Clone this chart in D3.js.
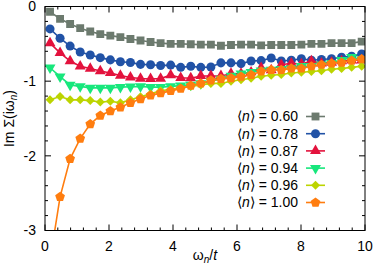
<!DOCTYPE html>
<html>
<head>
<meta charset="utf-8">
<script src="https://cdn.jsdelivr.net/npm/d3@7"></script>
<style>
  body { margin: 0; background: #fff; }
  svg { display: block; font-family: 'Liberation Sans', Arial, sans-serif; }
  .tick-label { font-size: 14px; fill: #000; }
  .legend text { font-size: 14px; fill: #000; }
</style>
</head>
<body>
<svg id="graph" width="374" height="265"></svg>
<script>
// Matsubara frequencies omega_n / t
const omega = [0.157, 0.471, 0.785, 1.100, 1.414, 1.728, 2.042, 2.356, 2.670, 2.985,
  3.299, 3.613, 3.927, 4.241, 4.555, 4.869, 5.184, 5.498, 5.812, 6.126,
  6.440, 6.754, 7.069, 7.383, 7.697, 8.011, 8.325, 8.639, 8.954, 9.268, 9.582, 9.896];

const fillings = ['0.60', '0.78', '0.87', '0.94', '0.96', '1.00'];

const n060 = [-0.07, -0.165, -0.235, -0.29, -0.335, -0.37, -0.39, -0.41, -0.435, -0.455,
  -0.475, -0.49, -0.50, -0.50, -0.505, -0.51, -0.51, -0.525, -0.515, -0.51,
  -0.51, -0.52, -0.515, -0.515, -0.515, -0.51, -0.50, -0.50, -0.49, -0.49, -0.49, -0.47];
const n078 = [-0.30, -0.425, -0.53, -0.61, -0.65, -0.685, -0.715, -0.74, -0.75, -0.775,
  -0.78, -0.79, -0.785, -0.815, -0.80, -0.815, -0.81, -0.755, -0.755, -0.765,
  -0.73, -0.725, -0.69, -0.73, -0.72, -0.70, -0.72, -0.71, -0.70, -0.68, -0.665, -0.635];
const n087 = [-0.49, -0.62, -0.73, -0.80, -0.83, -0.865, -0.89, -0.925, -0.95, -0.965,
  -0.97, -0.965, -0.92, -0.955, -0.96, -0.93, -0.93, -0.93, -0.90, -0.90,
  -0.88, -0.82, -0.85, -0.78, -0.76, -0.77, -0.73, -0.76, -0.75, -0.73, -0.72, -0.72];
const n094 = [-0.82, -0.94, -1.05, -1.07, -1.09, -1.09, -1.09, -1.08, -1.075, -1.07,
  -1.08, -1.08, -1.07, -1.06, -1.05, -1.03, -1.0, -0.97, -0.93, -0.90,
  -0.88, -0.86, -0.85, -0.84, -0.83, -0.80, -0.80, -0.78, -0.76, -0.72, -0.68, -0.71];
const n096 = [-1.25, -1.205, -1.25, -1.25, -1.26, -1.28, -1.27, -1.29, -1.25, -1.21,
  -1.17, -1.13, -1.11, -1.09, -1.07, -1.05, -1.03, -1.03, -1.0, -0.98,
  -0.96, -0.935, -0.92, -0.91, -0.89, -0.88, -0.87, -0.86, -0.84, -0.83, -0.815, -0.80];
const n100 = [-3.4, -2.55, -2.04, -1.77, -1.575, -1.46, -1.40, -1.35, -1.29, -1.24,
  -1.19, -1.16, -1.13, -1.10, -1.06, -1.03, -0.99, -0.97, -0.96, -0.94,
  -0.915, -0.87, -0.85, -0.85, -0.83, -0.83, -0.80, -0.78, -0.76, -0.75, -0.725, -0.705];

const xTicks = [0, 2, 4, 6, 8, 10];
const yTicks = [0, -1, -2, -3];

(function draw() {
  const margin = { top: 6.5, right: 9, bottom: 34.5, left: 45 };
  const width = 374 - margin.left - margin.right;
  const height = 265 - margin.top - margin.bottom;

  const svg = d3.select('#graph');
  const g = svg.append('g')
      .attr('transform', `translate(${margin.left},${margin.top})`);

  const x = d3.scaleLinear().domain([0, 10]).range([0, width]);
  const y = d3.scaleLinear().domain([-3, 0]).range([height, 0]);

  // pentagon marker, d3 has none
  const symbolPentagon = {
    draw(ctx, size) {
      const r = Math.sqrt(size / 2.378);
      for (let i = 0; i < 5; i += 1) {
        const a = -Math.PI / 2 + i * 2 * Math.PI / 5;
        if (i === 0) ctx.moveTo(r * Math.cos(a), r * Math.sin(a));
        else ctx.lineTo(r * Math.cos(a), r * Math.sin(a));
      }
      ctx.closePath();
    },
  };

  const series = [
    { values: n060, color: '#6c7a6e', type: d3.symbolSquare, size: 62, rot: 0 },
    { values: n078, color: '#2152a6', type: d3.symbolCircle, size: 64, rot: 0 },
    { values: n087, color: '#e3123d', type: d3.symbolTriangle, size: 52, rot: 0 },
    { values: n094, color: '#17e77c', type: d3.symbolTriangle, size: 52, rot: 180 },
    { values: n096, color: '#bcd400', type: d3.symbolSquare, size: 40, rot: 45 },
    { values: n100, color: '#ff7d0f', type: symbolPentagon, size: 62, rot: 0 },
  ];
  series.forEach((s, i) => { s.label = fillings[i]; });

  // axes: ticks inward on all four sides
  const major = 6;
  const minor = 3;
  const xMinor = d3.range(0, 10.001, 0.4).filter(v => xTicks.indexOf(+v.toFixed(1)) < 0);
  const yMinor = d3.range(-3, 0.001, 0.2).filter(v => yTicks.indexOf(Math.round(v * 10) / 10) < 0);

  const axes = g.append('g').attr('stroke', '#000').attr('stroke-width', 1);
  const tick = (x1, y1, x2, y2) => axes.append('line')
      .attr('x1', x1).attr('y1', y1).attr('x2', x2).attr('y2', y2);

  xTicks.forEach((v) => {
    tick(x(v), height, x(v), height - major);
    tick(x(v), 0, x(v), major);
  });
  xMinor.forEach((v) => {
    tick(x(v), height, x(v), height - minor);
    tick(x(v), 0, x(v), minor);
  });
  yTicks.forEach((v) => {
    tick(0, y(v), major, y(v));
    tick(width, y(v), width - major, y(v));
  });
  yMinor.forEach((v) => {
    tick(0, y(v), minor, y(v));
    tick(width, y(v), width - minor, y(v));
  });

  g.selectAll('.xlab')
    .data(xTicks)
    .enter().append('text')
      .attr('class', 'tick-label')
      .attr('x', d => x(d))
      .attr('y', height + 20)
      .attr('text-anchor', 'middle')
      .text(d => d);

  g.selectAll('.ylab')
    .data(yTicks)
    .enter().append('text')
      .attr('class', 'tick-label')
      .attr('x', -9)
      .attr('y', d => y(d))
      .attr('dy', '0.35em')
      .attr('text-anchor', 'end')
      .text(d => d);

  // data
  g.append('clipPath')
      .attr('id', 'clip')
    .append('rect')
      .attr('width', width)
      .attr('height', height);

  const line = d3.line()
    .x((d, i) => x(omega[i]))
    .y(d => y(d));

  const plot = g.append('g').attr('clip-path', 'url(#clip)');

  series.forEach((s) => {
    plot.append('path')
        .datum(s.values)
        .attr('fill', 'none')
        .attr('stroke', s.color)
        .attr('stroke-width', 1.6)
        .attr('d', line);

    const sym = d3.symbol().type(s.type).size(s.size);
    plot.selectAll(null)
        .data(s.values.map((v, i) => [omega[i], v]).filter(d => d[1] >= -3))
      .enter().append('path')
        .attr('fill', s.color)
        .attr('d', sym)
        .attr('transform', d => `translate(${x(d[0])},${y(d[1])}) rotate(${s.rot})`);
  });

  g.append('rect')
      .attr('width', width)
      .attr('height', height)
      .attr('fill', 'none')
      .attr('stroke', '#000')
      .attr('stroke-width', 1);

  // legend
  const legend = g.append('g')
      .attr('class', 'legend')
      .attr('transform', `translate(${298 - margin.left},${116.5 - margin.top})`);

  const row = legend.selectAll('g')
      .data(series)
    .enter().append('g')
      .attr('transform', (d, i) => `translate(0,${i * 17.2})`);

  const lt = row.append('text')
      .attr('text-anchor', 'end')
      .attr('dy', '0.35em');
  lt.append('tspan').text('\u27E8');
  lt.append('tspan').attr('font-style', 'italic').text('n');
  lt.append('tspan').text(d => `\u27E9 = ${d.label}`);

  row.append('line')
      .attr('x1', 8)
      .attr('x2', 27)
      .attr('stroke', d => d.color)
      .attr('stroke-width', 1.6);

  row.append('path')
      .attr('fill', d => d.color)
      .attr('d', d => d3.symbol().type(d.type).size(d.size)())
      .attr('transform', d => `translate(17.5,0) rotate(${d.rot})`);

  // axis titles
  const yt = svg.append('text')
      .attr('transform', `translate(14,${margin.top + height / 2}) rotate(-90)`)
      .attr('text-anchor', 'middle')
      .attr('font-size', 14);
  yt.append('tspan').text('Im \u03A3(i\u03C9');
  yt.append('tspan').attr('font-style', 'italic').attr('font-size', 10).attr('dy', 3).text('n');
  yt.append('tspan').attr('dy', -3).text(')');

  const xt = svg.append('text')
      .attr('x', margin.left + width / 2)
      .attr('y', 260)
      .attr('text-anchor', 'middle')
      .attr('font-size', 14);
  xt.append('tspan').text('\u03C9');
  xt.append('tspan').attr('font-style', 'italic').attr('font-size', 10).attr('dy', 3).text('n');
  xt.append('tspan').attr('dy', -3).text('/');
  xt.append('tspan').attr('font-style', 'italic').text('t');
}());
</script>
</body>
</html>
